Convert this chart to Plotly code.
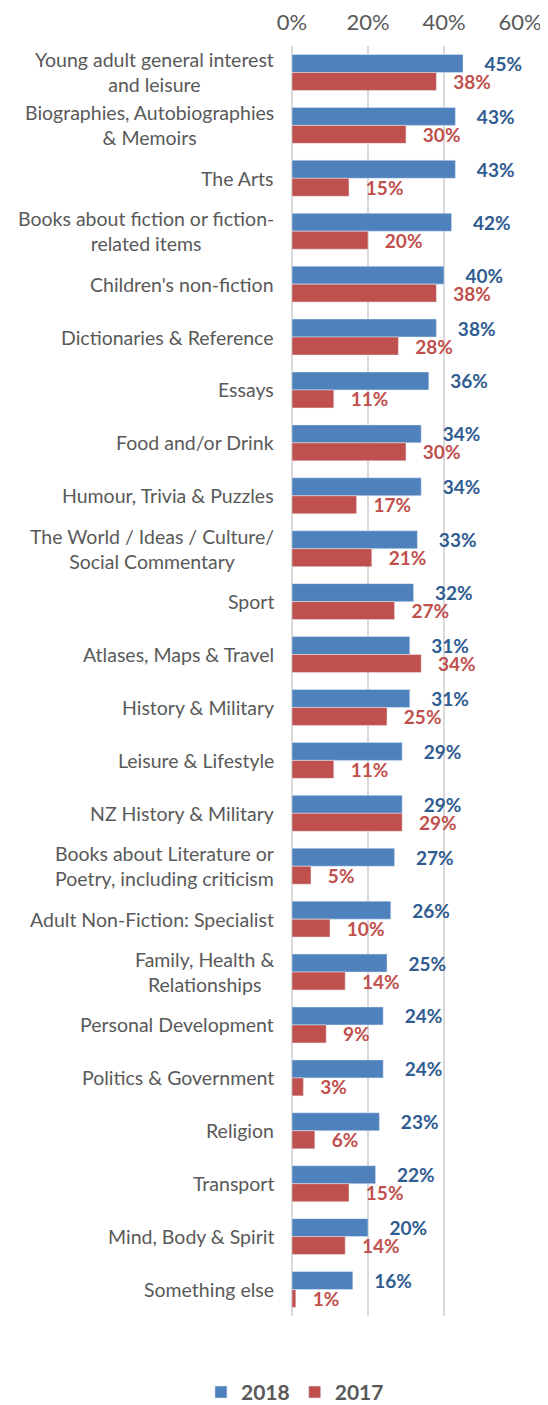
import plotly.graph_objects as go

categories = [
    "Young adult general interest<br>and leisure",
    "Biographies, Autobiographies<br>& Memoirs",
    "The Arts",
    "Books about fiction or fiction-<br>related items",
    "Children's non-fiction",
    "Dictionaries & Reference",
    "Essays",
    "Food and/or Drink",
    "Humour, Trivia & Puzzles",
    "The World / Ideas / Culture/<br>Social Commentary",
    "Sport",
    "Atlases, Maps & Travel",
    "History & Military",
    "Leisure & Lifestyle",
    "NZ History & Military",
    "Books about Literature or<br>Poetry, including criticism",
    "Adult Non-Fiction: Specialist",
    "Family, Health &<br>Relationships",
    "Personal Development",
    "Politics & Government",
    "Religion",
    "Transport",
    "Mind, Body & Spirit",
    "Something else",
]
y2018 = [45, 43, 43, 42, 40, 38, 36, 34, 34, 33, 32, 31, 31, 29, 29, 27, 26, 25, 24, 24, 23, 22, 20, 16]
y2017 = [38, 30, 15, 20, 38, 28, 11, 30, 17, 21, 27, 34, 25, 11, 29, 5, 10, 14, 9, 3, 6, 15, 14, 1]

font = "Lato"
blue, blue_txt = "#4F81BD", "#2F5C91"
red, red_txt = "#C0504D", "#C0504D"
nb = "\u00a0"

fig = go.Figure()
fig.add_trace(go.Bar(
    name="2018", y=categories, x=[v / 100 for v in y2018], orientation="h",
    marker=dict(color=blue), text=[f"{nb * 4}{v}%" for v in y2018],
    textposition="outside", cliponaxis=False, constraintext="none",
    textfont=dict(family=font, size=19, color=blue_txt, weight="bold"),
))
fig.add_trace(go.Bar(
    name="2017", y=categories, x=[v / 100 for v in y2017], orientation="h",
    marker=dict(color=red), text=[f"{nb * 3}{v}%" for v in y2017],
    textposition="outside", cliponaxis=False, constraintext="none",
    textfont=dict(family=font, size=19, color=red_txt, weight="bold"),
))

for c in categories:
    fig.add_annotation(
        x=0, y=c, xref="paper", yref="y", text=c, showarrow=False,
        xanchor="right", align="center", xshift=-16,
        font=dict(family=font, size=19.5, color="#595959"),
    )

# page body adds an 8px margin, so the figure is 8px smaller than the window
fig.update_layout(
    width=540, height=1397,
    margin=dict(l=284, r=28, t=38, b=89, autoexpand=False),
    barmode="group", bargap=0.32, bargroupgap=0,
    plot_bgcolor="white", paper_bgcolor="white",
    font=dict(family=font, color="#595959"),
    legend=dict(
        orientation="h", x=0.013, xanchor="center", y=-0.044, yanchor="top",
        font=dict(family=font, size=21, weight="bold"),
        itemwidth=30, traceorder="normal",
    ),
)
fig.update_xaxes(
    side="top", range=[0, 0.6], dtick=0.2, tickformat=".0%",
    showgrid=True, gridcolor="#D9D9D9", gridwidth=1.5,
    zeroline=True, zerolinecolor="#D9D9D9", zerolinewidth=1.5,
    tickfont=dict(family=font, size=22, color="#595959"),
    ticks="", fixedrange=True, automargin=False, ticklabelstandoff=11,
)
fig.update_yaxes(
    autorange="reversed", showticklabels=False, ticks="",
    showgrid=False, zeroline=False, automargin=False,
)

fig.write_html("out.html")
